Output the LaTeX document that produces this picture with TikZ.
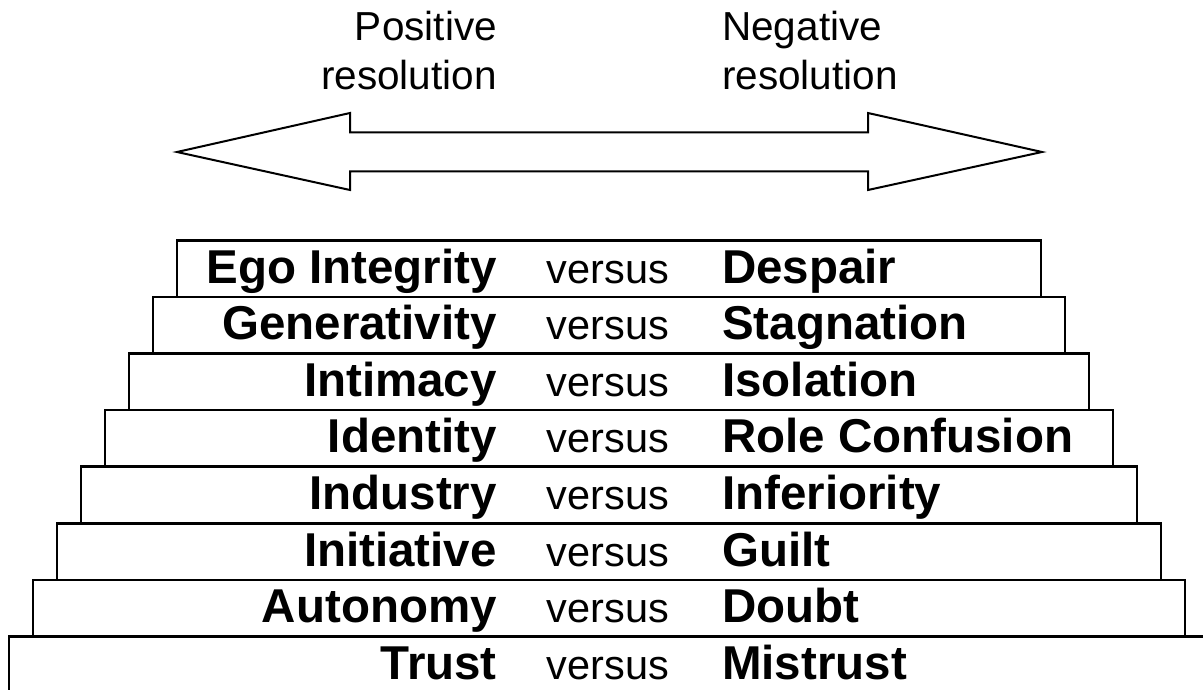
\documentclass[tikz,border=0pt]{standalone}
\usepackage{fontspec}
\setmainfont{Liberation Sans}
\usetikzlibrary{positioning}

\begin{document}
\begin{tikzpicture}[
    x=1pt, y=-1pt,
    tier/.style={
        rectangle, draw=black, line width=2.5pt,
        minimum height=56.6pt, inner sep=0pt, anchor=north,
        minimum width=#1,
    },
    goodlbl/.style={font=\fontsize{47.5}{56}\selectfont\bfseries,
        inner sep=0pt, anchor=base east},
    badlbl/.style={font=\fontsize{47.5}{56}\selectfont\bfseries,
        inner sep=0pt, anchor=base west},
    vslbl/.style={font=\fontsize{41.5}{50}\selectfont,
        inner sep=0pt, anchor=base},
    headlbl/.style={font=\fontsize{40.5}{48.6}\selectfont, inner sep=0pt},
    bigarrow/.style={draw=black, line width=2pt, line join=miter},
]

% Page frame of the reference
\useasboundingbox (0,0) rectangle (1203,690);

% Column positions for the three texts on each tier
\def\leftx{497}
\def\midx{608}
\def\rightx{722}

% Headings over the arrow (base = last line)
\node[headlbl, align=right, anchor=base east] (poshead) at (\leftx,89.3)
    {Positive\\resolution};
\node[headlbl, align=left, anchor=base west] (neghead) at (\rightx,89.3)
    {Negative\\resolution};

% Double-headed outline arrow
\coordinate (lefttip) at (177,152);
\coordinate (righttip) at (1042,152);
\draw[bigarrow] (lefttip) -- (350,113) -- (350,132.5) -- (868,132.5)
    -- (868,113) -- (righttip) -- (868,190) -- (868,171.5)
    -- (350,171.5) -- (350,190) -- cycle;

% Tiers, top to bottom
\node[tier=864pt]  (tierego)  at (609,239.0) {};
\node[tier=912pt]  (tiergen)  at (609,295.6) {};
\node[tier=960pt]  (tierint)  at (609,352.2) {};
\node[tier=1008pt] (tierid)   at (609,408.8) {};
\node[tier=1056pt] (tierind)  at (609,465.4) {};
\node[tier=1104pt] (tierini)  at (609,522.0) {};
\node[tier=1152pt] (tieraut)  at (609,578.6) {};
\node[tier=1200pt] (tiertru)  at (609,635.2) {};

% Tier texts
\node[goodlbl] (egoL) at (\leftx,283.0) {Ego Integrity};
\node[vslbl]   (egoV) at (\midx,283.0) {versus};
\node[badlbl]  (egoR) at (\rightx,283.0) {Despair};

\node[goodlbl] (genL) at (\leftx,339.6) {Generativity};
\node[vslbl]   (genV) at (\midx,339.6) {versus};
\node[badlbl]  (genR) at (\rightx,339.6) {Stagnation};

\node[goodlbl] (intL) at (\leftx,396.2) {Intimacy};
\node[vslbl]   (intV) at (\midx,396.2) {versus};
\node[badlbl]  (intR) at (\rightx,396.2) {Isolation};

\node[goodlbl] (idL) at (\leftx,452.8) {Identity};
\node[vslbl]   (idV) at (\midx,452.8) {versus};
\node[badlbl]  (idR) at (\rightx,452.8) {Role Confusion};

\node[goodlbl] (indL) at (\leftx,509.4) {Industry};
\node[vslbl]   (indV) at (\midx,509.4) {versus};
\node[badlbl]  (indR) at (\rightx,509.4) {Inferiority};

\node[goodlbl] (iniL) at (\leftx,566.0) {Initiative};
\node[vslbl]   (iniV) at (\midx,566.0) {versus};
\node[badlbl]  (iniR) at (\rightx,566.0) {Guilt};

\node[goodlbl] (autL) at (\leftx,622.6) {Autonomy};
\node[vslbl]   (autV) at (\midx,622.6) {versus};
\node[badlbl]  (autR) at (\rightx,622.6) {Doubt};

\node[goodlbl] (truL) at (\leftx,679.2) {Trust};
\node[vslbl]   (truV) at (\midx,679.2) {versus};
\node[badlbl]  (truR) at (\rightx,679.2) {Mistrust};

\end{tikzpicture}
\end{document}
